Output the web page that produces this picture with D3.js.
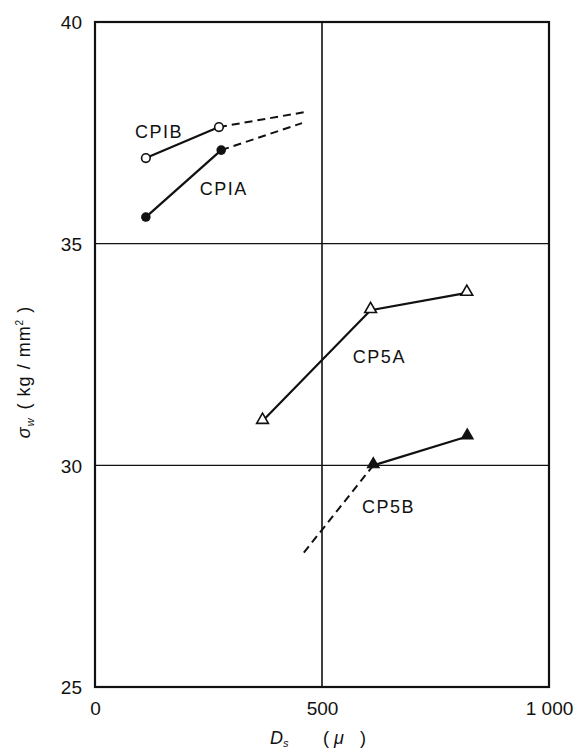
<!DOCTYPE html>
<html><head><meta charset="utf-8">
<script src="https://cdn.jsdelivr.net/npm/d3@7"></script>
<style>
html,body{margin:0;padding:0;background:#fff;}
svg{display:block;}
text{font-family:"Liberation Sans",Arial,sans-serif;fill:#111;}
</style></head>
<body>
<svg id="chart" width="582" height="753"></svg>
<script>
// ---- data ----
const xTicks = [0, 500, 1000];
const xTickLabels = ["0", "500", "1 000"];
const yTicks = [25, 30, 35, 40];
const yTickLabels = ["25", "30", "35", "40"];
const xGrid = [500];
const yGrid = [30, 35];

const seriesNames = ["CPIB", "CPIA", "CP5A", "CP5B"];
// measured points (solid)
const cp1bX = [112, 273], cp1bY = [36.93, 37.63];
const cp1aX = [112, 278], cp1aY = [35.6, 37.11];
const cp5aX = [369, 607, 819], cp5aY = [31.0, 33.5, 33.89];
const cp5bX = [613, 820], cp5bY = [30.0, 30.65];
// extrapolated (dashed)
const cp1bExtX = [273, 463], cp1bExtY = [37.63, 37.97];
const cp1aExtX = [278, 456], cp1aExtY = [37.11, 37.72];
const cp5bExtX = [460, 613], cp5bExtY = [28.03, 30.0];
// label anchor values
const labelX = [88, 231, 568, 588];
const labelY = [37.38, 36.1, 32.31, 28.92];

// ---- layout ----
const W = 582, H = 753;
const m = {left: 95, right: 33, top: 22, bottom: 66};
const svg = d3.select("#chart");
const x = d3.scaleLinear().domain([0, 1000]).range([m.left, W - m.right]);
const y = d3.scaleLinear().domain([25, 40]).range([H - m.bottom, m.top]);

// grid
svg.append("g").selectAll("line").data(xGrid).join("line")
  .attr("x1", d => x(d)).attr("x2", d => x(d))
  .attr("y1", y(25)).attr("y2", y(40))
  .attr("stroke", "#111").attr("stroke-width", 1.6);
svg.append("g").selectAll("line").data(yGrid).join("line")
  .attr("x1", x(0)).attr("x2", x(1000))
  .attr("y1", d => y(d)).attr("y2", d => y(d))
  .attr("stroke", "#111").attr("stroke-width", 1.4);

// frame
svg.append("rect")
  .attr("x", x(0)).attr("y", y(40))
  .attr("width", x(1000) - x(0)).attr("height", y(25) - y(40))
  .attr("fill", "none").attr("stroke", "#111").attr("stroke-width", 2.2);

// axes (labels only)
const yAxis = d3.axisLeft(y).tickValues(yTicks).tickSize(0).tickPadding(13)
  .tickFormat((d, i) => yTickLabels[i]);
const gy = svg.append("g").attr("transform", `translate(${x(0)},0)`).call(yAxis);
gy.select(".domain").remove();
gy.selectAll("text").style("font-size", "19px").attr("dy", "0.36em")
  .style("font-family", "'Liberation Sans',Arial,sans-serif").attr("fill", "#111");

const xAxis = d3.axisBottom(x).tickValues(xTicks).tickSize(0).tickPadding(15)
  .tickFormat((d, i) => xTickLabels[i]);
const gx = svg.append("g").attr("transform", `translate(0,${y(25)})`).call(xAxis);
gx.select(".domain").remove();
gx.selectAll("text").style("font-size", "19px")
  .style("font-family", "'Liberation Sans',Arial,sans-serif").attr("fill", "#111");

// lines
const zip = (xs, ys) => xs.map((v, i) => [v, ys[i]]);
const line = d3.line().x(d => x(d[0])).y(d => y(d[1]));
const solid = [zip(cp1bX, cp1bY), zip(cp1aX, cp1aY), zip(cp5aX, cp5aY), zip(cp5bX, cp5bY)];
const dashed = [zip(cp1bExtX, cp1bExtY), zip(cp1aExtX, cp1aExtY), zip(cp5bExtX, cp5bExtY)];

svg.append("g").selectAll("path").data(solid).join("path")
  .attr("d", line).attr("fill", "none").attr("stroke", "#111").attr("stroke-width", 2.2);
svg.append("g").selectAll("path").data(dashed).join("path")
  .attr("d", line).attr("fill", "none").attr("stroke", "#111").attr("stroke-width", 2)
  .attr("stroke-dasharray", "8,5");

// markers
const mk = svg.append("g");
mk.selectAll(".c1b").data(solid[0]).join("circle")
  .attr("cx", d => x(d[0])).attr("cy", d => y(d[1])).attr("r", 4.3)
  .attr("fill", "#fff").attr("stroke", "#111").attr("stroke-width", 1.6);
mk.selectAll(".c1a").data(solid[1]).join("circle")
  .attr("cx", d => x(d[0])).attr("cy", d => y(d[1])).attr("r", 4.8)
  .attr("fill", "#111");
const tri = d3.symbol().type(d3.symbolTriangle).size(60);
mk.selectAll(".t5a").data(solid[2]).join("path")
  .attr("d", tri).attr("transform", d => `translate(${x(d[0])},${y(d[1]) - 1})`)
  .attr("fill", "#fff").attr("stroke", "#111").attr("stroke-width", 1.6);
mk.selectAll(".t5b").data(solid[3]).join("path")
  .attr("d", tri).attr("transform", d => `translate(${x(d[0])},${y(d[1]) - 1})`)
  .attr("fill", "#111").attr("stroke", "#111").attr("stroke-width", 1.2);

// series labels
svg.append("g").selectAll("text").data(seriesNames).join("text")
  .attr("x", (d, i) => x(labelX[i])).attr("y", (d, i) => y(labelY[i]))
  .style("font-size", "18px").style("letter-spacing", "1.5px")
  .text(d => d);

// y axis title
const yt = svg.append("text")
  .attr("transform", `translate(30,372) rotate(-90)`)
  .attr("text-anchor", "middle").style("font-size", "18px").style("letter-spacing", "1px");
yt.append("tspan").style("font-style", "italic").text("σ");
yt.append("tspan").attr("dy", 4).style("font-size", "11px").style("font-style", "italic").text("w");
yt.append("tspan").attr("dy", -4).attr("dx", 8).text("( kg / mm");
yt.append("tspan").attr("dy", -7).style("font-size", "10px").text("2");
yt.append("tspan").attr("dy", 7).text(" )");

// x axis title
const xt = svg.append("text").attr("y", 744).style("font-size", "18px");
xt.append("tspan").attr("x", 270).style("font-style", "italic").text("D");
xt.append("tspan").attr("dy", 3).style("font-size", "11px").style("font-style", "italic").text("s");
xt.append("tspan").attr("x", 323).attr("dy", -3).text("(");
xt.append("tspan").attr("x", 334).style("font-style", "italic").text("μ");
xt.append("tspan").attr("x", 360).text(")");
</script>
</body></html>
